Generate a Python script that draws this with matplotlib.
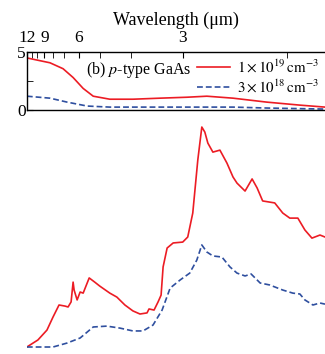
import matplotlib

matplotlib.use("Agg")
import matplotlib.pyplot as plt
import numpy as np

plt.rcParams["font.family"] = ["Liberation Serif", "DejaVu Serif"]
plt.rcParams["mathtext.fontset"] = "stix"

RED = "#ec1c24"
BLUE = "#2f4f9f"

# panel (b) top: absorption coefficient vs photon energy (eV)
top_e_high = [0.103, 0.149, 0.175, 0.195, 0.215, 0.235, 0.268, 0.314, 0.368,
              0.421, 0.461, 0.513, 0.580, 0.646, 0.696]
top_v_high = [4.49, 4.07, 3.56, 2.80, 1.86, 1.19, 0.93, 0.93, 1.02,
              1.10, 1.19, 1.02, 0.68, 0.42, 0.25]
top_e_low = [0.103, 0.149, 0.183, 0.223, 0.268, 0.382, 0.513, 0.580, 0.696]
top_v_low = [1.19, 1.02, 0.68, 0.34, 0.25, 0.25, 0.25, 0.17, 0.08]

# lower panel: normalized spectra (arb. units)
bot_e_high = [0.103, 0.125, 0.143, 0.155, 0.167, 0.179, 0.185, 0.191, 0.195,
              0.197, 0.203, 0.209, 0.215, 0.227, 0.238, 0.248, 0.268, 0.282,
              0.298, 0.314, 0.328, 0.342, 0.346, 0.356, 0.364, 0.370, 0.374,
              0.382, 0.394, 0.413, 0.423, 0.433, 0.443, 0.451, 0.457, 0.463,
              0.473, 0.487, 0.501, 0.513, 0.521, 0.537, 0.551, 0.561, 0.572,
              0.596, 0.612, 0.626, 0.642, 0.656, 0.670, 0.686, 0.696]
bot_v_high = [0.0, 0.032, 0.077, 0.136, 0.191, 0.186, 0.182, 0.205, 0.295,
              0.259, 0.214, 0.25, 0.245, 0.314, 0.295, 0.277, 0.245, 0.227,
              0.191, 0.164, 0.15, 0.155, 0.173, 0.168, 0.205, 0.236, 0.364,
              0.45, 0.473, 0.477, 0.5, 0.609, 0.85, 1.0, 0.977, 0.927,
              0.886, 0.895, 0.836, 0.773, 0.745, 0.709, 0.764, 0.723, 0.664,
              0.655, 0.609, 0.586, 0.586, 0.532, 0.495, 0.509, 0.5]
bot_e_low = [0.103, 0.155, 0.183, 0.209, 0.235, 0.262, 0.288, 0.314, 0.334,
             0.354, 0.372, 0.388, 0.408, 0.427, 0.441, 0.451, 0.461, 0.473,
             0.491, 0.507, 0.521, 0.537, 0.549, 0.567, 0.586, 0.612, 0.632,
             0.646, 0.656, 0.672, 0.686, 0.696]
bot_v_low = [0.0, 0.0, 0.018, 0.041, 0.091, 0.095, 0.086, 0.073, 0.073,
             0.1, 0.168, 0.268, 0.305, 0.336, 0.395, 0.464, 0.432, 0.414,
             0.409, 0.364, 0.336, 0.323, 0.332, 0.291, 0.282, 0.259, 0.245,
             0.241, 0.214, 0.191, 0.2, 0.195]

wl_major = [12, 9, 6, 3]
wl_minor = [11, 10, 8, 7, 5, 4, 2]

E_MIN, E_MAX = 0.1033, 0.696

fig = plt.figure(figsize=(3.25, 3.54), dpi=100)

ax = fig.add_axes([27 / 325, 1 - 110 / 354, 1 - 27 / 325, 58 / 354])
ax.plot(top_e_high, top_v_high, color=RED, lw=1.2,
        label=r"$1\times10^{19}\,\mathrm{cm}^{-3}$")
ax.plot(top_e_low, top_v_low, color=BLUE, lw=1.2, ls=(0, (3.5, 1.8)),
        label=r"$3\times10^{18}\,\mathrm{cm}^{-3}$")
ax.set_xlim(E_MIN, E_MAX)
ax.set_ylim(0, 5)
ax.spines["right"].set_visible(False)
for s in ax.spines.values():
    s.set_linewidth(1.0)

ax.xaxis.tick_top()
ax.set_xticks([1.24 / w for w in wl_major])
ax.set_xticklabels([str(w) for w in wl_major], fontsize=12.5)
ax.set_xticks([1.24 / w for w in wl_minor], minor=True)
ax.tick_params(axis="x", which="both", direction="in", length=4, pad=4)
ax.set_yticks([0, 5])
ax.set_yticklabels(["0", "5"], fontsize=12.5)
ax.set_yticks([2.5], minor=True)
ax.tick_params(axis="y", which="both", direction="in", length=4, pad=1)
ax.xaxis.set_label_position("top")
ax.set_xlabel("Wavelength (μm)", fontsize=13, labelpad=4)

ax.text(0.431, 3.45, r"(b) $p$-type GaAs", fontsize=11.5, ha="right",
        va="center")
ax.legend(loc="center left", bbox_to_anchor=(197 / 325, 1 - 77 / 354),
          bbox_transform=fig.transFigure, frameon=False, fontsize=10.8,
          handlelength=2.2, handletextpad=0.45, labelspacing=0.2,
          borderpad=0, borderaxespad=0)

ax2 = fig.add_axes([27 / 325, 1 - 350 / 354, 1 - 27 / 325, 230 / 354])
ax2.plot(bot_e_high, bot_v_high, color=RED, lw=1.2)
ax2.plot(bot_e_low, bot_v_low, color=BLUE, lw=1.2, ls=(0, (3.5, 1.8)))
ax2.set_xlim(E_MIN, E_MAX)
ax2.set_ylim(-0.0136, 1.032)
ax2.axis("off")

fig.savefig("out.png", dpi=100)
